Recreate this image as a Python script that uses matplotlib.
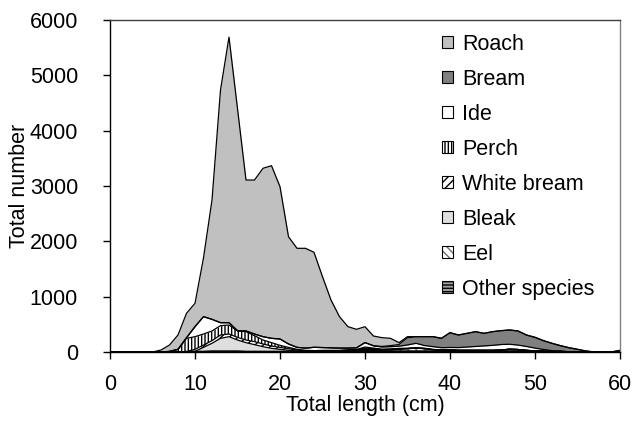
import numpy as np
import matplotlib
matplotlib.use('Agg')
import matplotlib.pyplot as plt
from matplotlib.patches import Patch

plt.rcParams['font.family'] = 'Liberation Sans'
plt.rcParams['font.size'] = 15.5
plt.rcParams['hatch.linewidth'] = 1.0

# length classes (cm)
length = list(range(0, 61))

# catch per length class, per species
other = [0]*8 + [5, 5, 10, 10, 15, 15, 15, 15, 10, 10, 10, 10, 10, 10, 10, 10, 10, 15, 15, 15,
                 20, 20, 30, 25, 20, 20, 20, 20, 20, 20, 20, 20, 25, 25, 25, 25, 25, 25, 30, 35,
                 30, 25, 20, 15, 10, 10, 5] + [0]*6
eel = [0]*28 + [5, 10, 20, 20, 15, 20, 30, 40, 50, 40, 20, 10, 10, 5, 5, 5, 5, 5, 5, 15, 15, 5] + [0]*11
bleak = [0]*10 + [2, 74, 142, 232, 262, 202, 159, 123, 86, 56, 38, 20, 8, 2] + [0]*37
white_bream = [0]*9 + [5, 36, 42, 48, 60, 48, 48, 48, 54, 49, 42, 36, 30, 18, 12, 10, 10, 10, 10,
                       10, 10, 20, 15, 10, 10, 10, 5, 5, 5, 5, 5, 5] + [0]*20
perch = [0]*7 + [10, 43, 237, 229, 199, 175, 169, 163, 115, 150, 108, 72, 61, 36, 24, 12, 6,
                 5, 5, 5, 5, 5, 5, 20, 10, 5, 5, 5, 2, 2, 2, 2, 2, 2] + [0]*20
ide = [0]*9 + [10, 181, 314, 210, 54, 42, 5, 13, 30, 60, 78, 115, 61, 36, 40, 60, 50, 45, 40,
               30, 30, 80, 40, 40, 40, 40, 60, 80, 50, 50, 40, 40, 50, 60, 70, 80, 90, 100, 90,
               80, 70, 50, 30, 15, 5] + [0]*7
bream = [0]*31 + [5, 10, 20, 30, 130, 120, 160, 180, 170, 267, 227, 247, 267, 227, 247, 250,
                  258, 255, 207, 195, 160, 132, 99, 73, 48, 18, 0, 0, 0, 30]
roach = [0]*6 + [36, 116, 259, 442, 422, 1061, 2157, 4205, 5160, 4015, 2728, 2783, 3043, 3120,
                 2753, 1939, 1790, 1804, 1717, 1281, 865, 568, 387, 335, 287, 174, 159, 132, 34,
                 20] + [0]*25

names = ['Roach', 'Bream', 'Ide', 'Perch', 'White bream', 'Bleak', 'Eel', 'Other species']

# bottom of the stack first
series = [other, eel, bleak, white_bream, perch, ide, bream, roach]
styles = [  # facecolor, hatch, hatch colour
    ('#a0a0a0', '-----', 'black'),
    ('white', '\\\\\\\\', '#707070'),
    ('#dedede', None, 'black'),
    ('white', '////', 'black'),
    ('white', '|||||', 'black'),
    ('white', None, 'black'),
    ('#808080', None, 'black'),
    ('#c0c0c0', None, 'black'),
]

fig = plt.figure(figsize=(6.34, 4.21), dpi=100)
ax = fig.add_axes([110/634, 1-352/421, 510/634, 332/421])

x = np.array(length)
base = np.zeros(len(x))
handles = {}
for vals, name, (fc, hatch, hc) in zip(series, names[::-1], styles):
    top = base + np.array(vals)
    ax.fill_between(x, base, top, facecolor=fc, edgecolor=hc, hatch=hatch, linewidth=0)
    ax.plot(x, top, color='black', lw=0.9)
    handles[name] = (Patch(facecolor=fc, edgecolor=hc, hatch=hatch, linewidth=0),
                     Patch(facecolor='none', edgecolor='black', linewidth=0.8))
    base = top

ax.set_xlim(0, 60)
ax.set_ylim(0, 6000)
ax.set_xticks(range(0, 61, 10))
ax.set_yticks(range(0, 6001, 1000))
ax.tick_params(direction='out', length=5, width=1, colors='black')
ax.tick_params(axis='y', pad=18)
ax.tick_params(axis='x', pad=11)
ax.spines['top'].set_color('#404040')
ax.spines['right'].set_color('#808080')
for s in ax.spines.values():
    s.set_linewidth(1)
ax.set_xlabel('Total length (cm)', labelpad=0)
ax.set_ylabel('Total number', labelpad=0)

ax.legend([handles[n] for n in names], names, loc='upper left',
          bbox_to_anchor=(442/634, 1-34/421), bbox_transform=fig.transFigure,
          frameon=False, borderpad=0, borderaxespad=0, handlelength=0.5,
          handleheight=0.5, handletextpad=0.45, labelspacing=0.65)

fig.savefig('out.png', dpi=100)
